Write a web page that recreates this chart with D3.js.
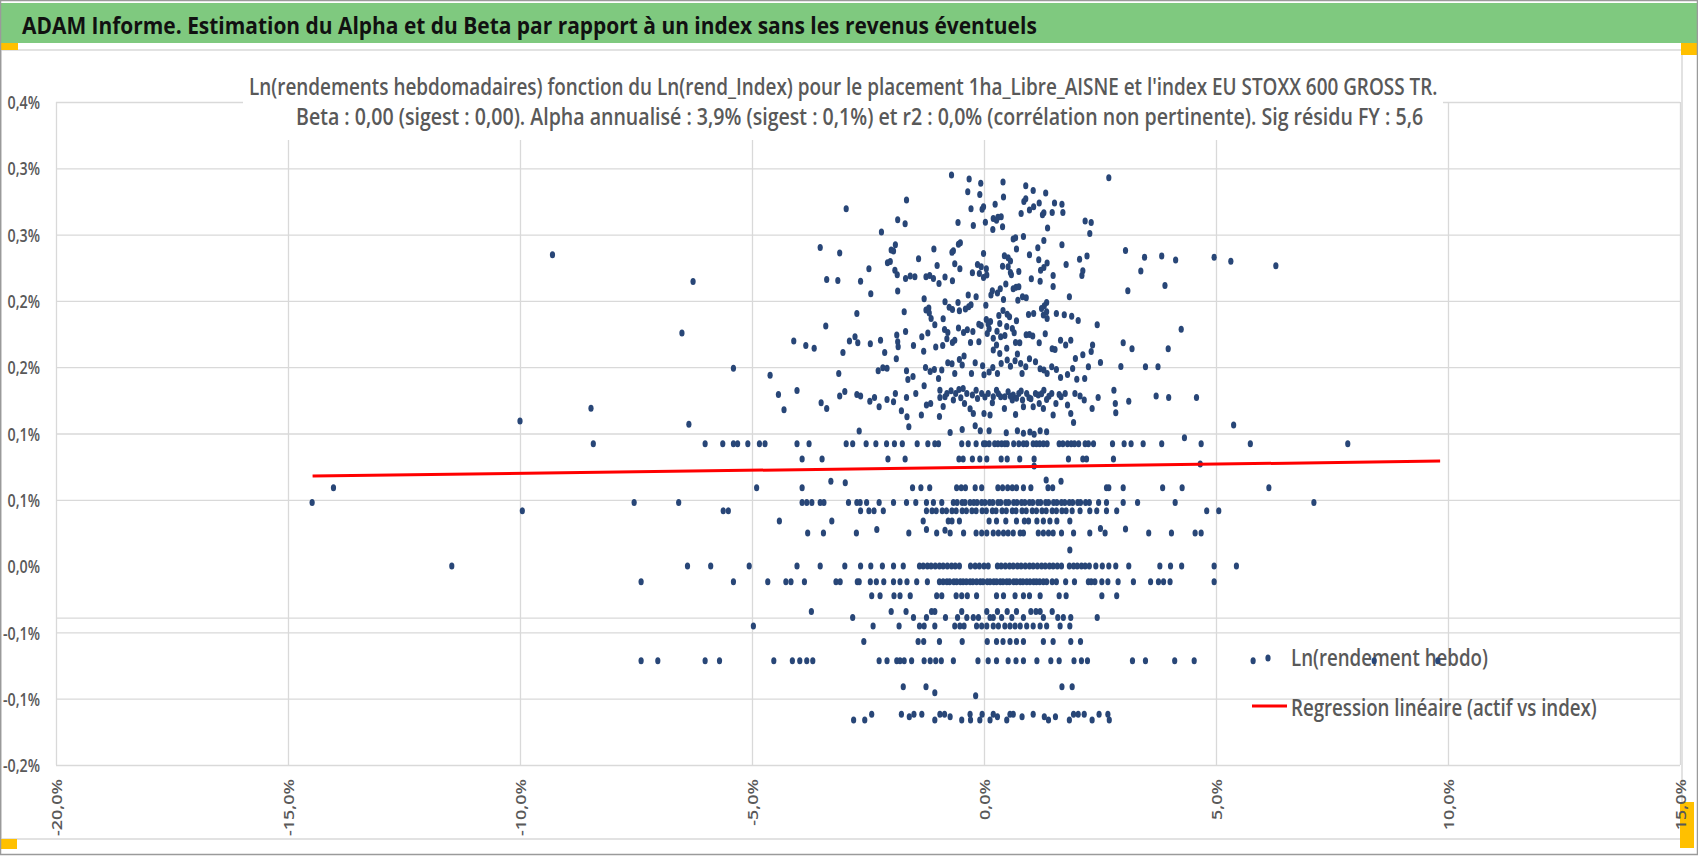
<!DOCTYPE html>
<html>
<head>
<meta charset="utf-8">
<script src="https://cdn.jsdelivr.net/npm/d3@7"></script>
<style>
  body { margin: 0; background: #fff; }
  svg { display: block; }
  text { font-family: "Open Sans", "Liberation Sans", Arial, sans-serif; }
</style>
</head>
<body>
<div id="chart"></div>
<script>
// texts
const pageTitle = "ADAM Informe. Estimation du Alpha et du Beta par rapport à un index sans les revenus éventuels";
const subTitle1 = "Ln(rendements hebdomadaires) fonction du Ln(rend_Index) pour le placement 1ha_Libre_AISNE et l'index EU STOXX 600 GROSS TR.";
const subTitle2 = "Beta : 0,00 (sigest : 0,00). Alpha annualisé : 3,9% (sigest : 0,1%) et r2 : 0,0% (corrélation non pertinente). Sig résidu FY : 5,6";
const seriesNames = ["Ln(rendement hebdo)", "Regression linéaire (actif vs index)"];

// axes (values in %)
const xTicks = [-20, -15, -10, -5, 0, 5, 10, 15];
const xTickLabels = ["-20,0%", "-15,0%", "-10,0%", "-5,0%", "0,0%", "5,0%", "10,0%", "15,0%"];
const yTicks = [-0.15, -0.10, -0.05, 0, 0.05, 0.10, 0.15, 0.20, 0.25, 0.30, 0.35];
const yTickLabels = ["-0,2%", "-0,1%", "-0,1%", "0,0%", "0,1%", "0,1%", "0,2%", "0,2%", "0,3%", "0,3%", "0,4%"];
const strayRule = -0.0392;

// regression (weekly alpha in %, beta)
const alphaWeekly = 0.0746;
const betaIndex = 0.000465;
const regressionX = [-14.47, 9.83];

// weekly returns sitting on repeated levels: level (asset %) and index % values
const rowLevels = [0.0922, 0.0807, 0.0590, 0.0480, 0.0417, 0.0341, 0.0250, 0.0000, -0.0118, -0.0224,
  -0.0342, -0.0387, -0.0452, -0.0568, -0.0714, -0.0910, -0.1118, -0.1136, -0.1160];
const rowIndex = [
  [-8.42, -6.01, -5.63, -5.40, -5.31, -5.09, -4.84, -4.72, -4.03, -3.77, -2.97, -2.83, -2.54, -2.33, -2.10, -1.93, -1.76, -1.44, -1.21, -1.06, -0.98, -0.48, -0.34, -0.17, -0.01, 0.03, 0.11, 0.23, 0.30, 0.38, 0.45, 0.50, 0.64, 0.75, 0.85, 0.92, 1.06, 1.13, 1.20, 1.28, 1.36, 1.62, 1.70, 1.80, 1.88, 1.95, 2.04, 2.18, 2.25, 2.36, 2.77, 3.02, 3.17, 3.43, 3.83, 4.68, 5.74, 7.84],
  [-3.92, -3.49, -2.07, -1.70, -0.54, -0.45, -0.25, -0.09, 0.06, 0.37, 0.50, 0.77, 1.08, 1.82, 2.13, 2.21, 2.79],
  [-14.02, -4.90, -3.92, -1.54, -1.36, -1.17, -0.59, -0.49, -0.40, -0.19, -0.05, 0.30, 0.40, 0.51, 0.61, 0.70, 0.85, 1.01, 1.38, 1.48, 2.64, 2.69, 3.00, 3.85, 4.27, 6.14],
  [-14.48, -7.54, -6.58, -3.92, -3.82, -3.71, -3.53, -3.45, -2.92, -2.74, -2.67, -2.53, -2.26, -1.95, -1.67, -1.47, -1.24, -1.09, -0.91, -0.66, -0.58, -0.47, -0.41, -0.30, -0.22, -0.15, -0.05, 0.02, 0.12, 0.19, 0.30, 0.36, 0.47, 0.53, 0.64, 0.71, 0.81, 0.88, 0.98, 1.05, 1.16, 1.22, 1.33, 1.39, 1.50, 1.57, 1.67, 1.74, 1.84, 1.91, 2.02, 2.08, 2.19, 2.27, 2.47, 2.64, 3.00, 3.31, 4.12, 7.11],
  [-9.95, -5.62, -5.51, -2.66, -2.48, -2.37, -2.17, -1.24, -1.12, -1.03, -0.90, -0.81, -0.69, -0.60, -0.47, -0.38, -0.26, -0.17, -0.04, 0.05, 0.18, 0.26, 0.39, 0.48, 0.61, 0.69, 0.82, 0.91, 1.04, 1.13, 1.25, 1.34, 1.47, 1.56, 1.68, 1.77, 1.90, 2.07, 2.28, 2.43, 2.64, 2.86, 4.80, 5.06],
  [-4.41, -3.28, -1.31, -0.77, -0.69, -0.53, 0.11, 0.27, 0.47, 0.70, 0.87, 0.96, 1.14, 1.28, 1.42, 1.57, 1.85],
  [-3.80, -3.46, -2.75, -1.62, -1.02, -0.73, -0.44, -0.17, -0.05, 0.06, 0.20, 0.31, 0.42, 0.52, 0.63, 0.78, 0.85, 1.17, 1.28, 1.39, 1.49, 1.67, 1.93, 2.28, 2.61, 3.55, 4.04, 4.55, 4.68],
  [-11.47, -6.39, -5.89, -5.06, -4.03, -3.53, -3.00, -2.66, -2.44, -2.19, -1.95, -1.74, -1.39, -1.31, -1.22, -1.14, -1.05, -0.96, -0.88, -0.79, -0.70, -0.62, -0.53, -0.29, -0.19, -0.10, 0.00, 0.09, 0.29, 0.37, 0.46, 0.55, 0.63, 0.72, 0.80, 0.89, 0.98, 1.06, 1.15, 1.24, 1.32, 1.41, 1.49, 1.58, 1.67, 1.84, 1.93, 2.01, 2.10, 2.18, 2.27, 2.41, 2.55, 2.69, 2.84, 3.12, 3.79, 4.02, 4.26, 4.96, 5.44],
  [-7.39, -5.40, -4.66, -4.27, -4.16, -3.87, -3.19, -3.10, -2.73, -2.69, -2.45, -2.32, -2.16, -1.95, -1.81, -1.66, -1.45, -1.22, -0.96, -0.88, -0.80, -0.74, -0.65, -0.59, -0.51, -0.45, -0.38, -0.30, -0.24, -0.16, -0.08, -0.02, 0.07, 0.13, 0.21, 0.27, 0.35, 0.41, 0.49, 0.55, 0.64, 0.70, 0.78, 0.84, 0.92, 0.99, 1.07, 1.13, 1.20, 1.28, 1.35, 1.47, 1.56, 1.76, 1.95, 2.25, 2.31, 2.39, 2.54, 2.67, 2.89, 3.22, 3.59, 3.76, 3.87, 4.01, 4.96],
  [-2.42, -2.24, -1.94, -1.81, -1.59, -1.02, -0.91, -0.60, -0.48, -0.36, -0.16, 0.27, 0.42, 0.67, 0.85, 0.98, 1.21, 1.62, 1.77, 2.54, 2.86],
  [-3.72, -2.00, -1.68, -1.13, -1.06, -0.48, 0.06, 0.29, 0.50, 0.70, 1.01, 1.12, 1.21, 1.47],
  [-2.83, -1.52, -1.24, -0.83, -0.57, -0.37, -0.23, -0.12, 0.13, 0.20, 0.38, 0.60, 0.85, 1.28, 1.59, 1.71, 1.87, 2.44],
  [-4.97, -2.39, -1.83, -1.39, -1.29, -1.06, -0.63, -0.52, -0.43, -0.16, -0.05, 0.06, 0.20, 0.31, 0.45, 0.56, 0.67, 0.78, 0.92, 1.06, 1.21, 1.35, 1.64, 1.85],
  [-2.59, -1.42, -1.30, -0.96, -0.47, 0.07, 0.27, 0.41, 0.56, 0.70, 0.85, 1.28, 1.49, 1.87, 2.08],
  [-7.39, -7.03, -6.01, -5.70, -4.53, -4.13, -3.97, -3.82, -3.69, -2.26, -2.09, -1.88, -1.81, -1.72, -1.56, -1.29, -1.16, -1.04, -0.92, -0.66, -0.13, 0.09, 0.27, 0.52, 0.69, 0.85, 1.14, 1.44, 1.62, 1.94, 2.10, 2.23, 3.20, 3.48, 4.11, 4.53, 5.80, 8.41, 9.78],
  [-1.74, -1.25, 1.68, 1.90],
  [-2.42, -1.78, -1.51, -1.34, -0.95, -0.85, -0.30, -0.04, 0.20, 0.56, 0.63, 1.06, 1.93, 2.03, 2.16, 2.48, 2.67],
  [-1.61, -0.73, 0.29, 0.82, 1.30, 1.54],
  [-2.81, -2.57, -1.06, -0.48, -0.29, -0.09, 0.13, 0.49, 1.39, 1.84, 2.33, 2.70]
];

// remaining weekly returns: [index %, asset %]
const loosePoints = [
  [-0.70,0.2949],[-0.32,0.2919],[-0.07,0.2888],[0.41,0.2896],[2.69,0.2929],
  [0.90,0.2868],[1.06,0.2833],[-0.35,0.2823],[-0.09,0.2803],[1.33,0.2813],[0.42,0.2783],[0.90,0.2770],[0.86,0.2750],
  [-1.67,0.2760],[-2.97,0.2695],[-0.28,0.2695],[-0.04,0.2692],[-0.01,0.2710],[0.24,0.2728],[1.19,0.2738],[1.52,0.2738],[1.68,0.2728],[1.07,0.2710],[0.98,0.2685],[1.29,0.2665],[1.26,0.2650],[1.47,0.2667],[1.70,0.2667],[0.80,0.2660],[0.20,0.2622],[0.30,0.2630],[0.37,0.2635],[0.27,0.2609],
  [-1.86,0.2612],[-1.70,0.2582],[-0.56,0.2592],[-0.23,0.2569],[0.03,0.2594],[0.19,0.2539],[0.40,0.2559],[2.18,0.2602],[2.31,0.2592],[1.37,0.2549],[2.28,0.2509],[-2.21,0.2519],
  [0.63,0.2466],[0.68,0.2476],[0.85,0.2486],[1.29,0.2456],[-0.51,0.2438],[-0.55,0.2428],[1.68,0.2423],[-3.53,0.2403],[-3.11,0.2361],[-1.91,0.2423],[-2.00,0.2383],[-1.95,0.2376],[-1.08,0.2391],[-0.66,0.2378],[-0.69,0.2366],[-0.01,0.2358],[0.70,0.2391],[1.16,0.2401],[0.98,0.2348],[3.05,0.2381],[3.46,0.2330],[3.83,0.2338],[4.13,0.2308],[-1.41,0.2318],[0.44,0.2340],[0.52,0.2325],[0.57,0.2300],[2.06,0.2315],[2.22,0.2338],[1.18,0.2310],
  [-2.08,0.2288],[-2.02,0.2298],[-1.01,0.2267],[-0.63,0.2280],[-0.52,0.2242],[0.40,0.2262],[0.52,0.2257],[-0.14,0.2275],[-0.06,0.2257],[1.36,0.2285],[1.29,0.2252],[1.22,0.2232],[1.77,0.2275],[2.13,0.2227],[2.11,0.2192],[-2.48,0.2242],[-1.92,0.2232],[-1.87,0.2197],[-0.25,0.2212],[-0.10,0.2207],[0.05,0.2242],[0.06,0.2195],[-0.01,0.2177],[0.75,0.2222],[0.57,0.2215],[1.49,0.2192],[3.38,0.2225],[-3.39,0.2162],[-3.15,0.2154],[-2.66,0.2149],[-1.69,0.2169],[-1.59,0.2187],[-1.49,0.2182],[-1.25,0.2182],[-1.17,0.2192],[-1.09,0.2169],[-0.97,0.2132],[-0.84,0.2180],[-0.68,0.2152],[1.02,0.2167],[1.21,0.2149],[0.59,0.2197],
  [-2.44,0.2054],[-1.86,0.2074],[0.47,0.2127],[1.49,0.2109],[3.10,0.2076],[3.90,0.2117],[0.69,0.2102],[0.75,0.2107],[0.63,0.2092],[0.35,0.2092],[0.18,0.2076],[0.29,0.2059],[0.15,0.2044],[-0.34,0.2044],[-0.17,0.2031],[0.42,0.2011],[0.83,0.2031],[0.91,0.2024],[0.73,0.2004],[1.84,0.2031],[-1.29,0.2016],[-0.84,0.1993],[-0.75,0.1953],[-0.68,0.1936],[-0.56,0.1988],[-0.53,0.1926],[-0.40,0.1938],[-0.28,0.1971],[-0.33,0.1956],[0.04,0.1968],[1.35,0.1988],[1.30,0.1963],
  [-2.74,0.1905],[-1.72,0.1918],[-1.25,0.1931],[-1.19,0.1946],[-1.18,0.1908],[-1.14,0.1868],[-0.88,0.1865],[-1.06,0.1820],[0.41,0.1928],[0.50,0.1900],[0.32,0.1890],[0.55,0.1880],[0.70,0.1850],[0.34,0.1830],[0.96,0.1898],[1.07,0.1905],[1.24,0.1943],[1.35,0.1918],[1.28,0.1893],[1.36,0.1868],[1.56,0.1905],[1.73,0.1895],[1.89,0.1885],[2.03,0.1853],[2.44,0.1820],[0.05,0.1860],[0.14,0.1845],[-0.06,0.1815],[-0.11,0.1823],[0.09,0.1825],[-3.41,0.1810],[-0.36,0.1782],[-0.24,0.1770],[-0.55,0.1795],[-0.44,0.1762],[-0.85,0.1785],[-0.78,0.1762],[0.28,0.1772],[0.49,0.1807],[0.61,0.1792],[0.65,0.1760],
  [-4.10,0.1697],[-3.84,0.1664],[-3.66,0.1642],[-3.04,0.1611],[-2.90,0.1697],[-2.78,0.1730],[-2.72,0.1684],[-2.45,0.1677],[-2.23,0.1704],[-2.14,0.1611],[-1.88,0.1742],[-1.86,0.1692],[-1.85,0.1654],[-1.69,0.1770],[-1.52,0.1664],[-1.30,0.1621],[-1.34,0.1730],[-1.21,0.1757],[-1.04,0.1652],[-0.89,0.1664],[-0.80,0.1714],[-0.68,0.1687],[-0.63,0.1704],[-0.29,0.1687],[-0.11,0.1692],[0.07,0.1755],[0.11,0.1790],[0.20,0.1719],[0.27,0.1667],[0.36,0.1730],[0.45,0.1740],[0.68,0.1687],[0.77,0.1684],[0.91,0.1745],[0.98,0.1747],[1.05,0.1735],[1.19,0.1684],[1.32,0.1752],[1.47,0.1639],[1.53,0.1634],[1.65,0.1704],[1.76,0.1667],[1.87,0.1704],[1.97,0.1566],[2.13,0.1594],[2.34,0.1667],[2.31,0.1619],[2.51,0.1536],[3.00,0.1684],[3.19,0.1639],[3.97,0.1639],[4.25,0.1787],
  [-4.61,0.1440],[-3.13,0.1453],[-2.28,0.1473],[-2.18,0.1496],[-2.09,0.1493],[-1.89,0.1564],[-1.67,0.1473],[-1.53,0.1430],[-1.64,0.1408],[-1.26,0.1498],[-1.16,0.1468],[-1.07,0.1483],[-0.98,0.1415],[-0.91,0.1478],[-0.78,0.1533],[-0.69,0.1526],[-0.53,0.1559],[-0.43,0.1584],[-0.47,0.1516],[-0.63,0.1453],[-0.27,0.1453],[-0.19,0.1533],[-0.03,0.1511],[0.00,0.1443],[0.11,0.1463],[0.19,0.1498],[0.29,0.1453],[0.37,0.1528],[0.50,0.1554],[0.57,0.1508],[0.67,0.1549],[0.72,0.1599],[0.79,0.1528],[0.90,0.1503],[0.82,0.1453],[0.98,0.1564],[1.11,0.1541],[1.21,0.1488],[1.29,0.1478],[1.36,0.1453],[1.46,0.1503],[1.56,0.1483],[1.65,0.1423],[1.80,0.1445],[1.91,0.1491],[2.00,0.1410],[2.17,0.1415],[2.25,0.1503],[2.95,0.1506],[3.48,0.1503],[3.75,0.1503],[0.20,0.1629],[0.34,0.1604],[0.49,0.1642],
  [-4.43,0.1295],[-4.31,0.1179],[-4.03,0.1325],[-3.51,0.1232],[-3.39,0.1189],[-3.11,0.1282],[-3.00,0.1317],[-2.74,0.1295],[-2.66,0.1282],[-2.46,0.1244],[-2.36,0.1272],[-2.26,0.1202],[-2.09,0.1257],[-1.95,0.1239],[-1.91,0.1302],[-1.78,0.1171],[-1.67,0.1272],[-1.66,0.1126],[-1.62,0.1051],[-1.47,0.1302],[-1.35,0.1139],[-1.29,0.1360],[-1.24,0.1214],[-1.15,0.1227],[-0.96,0.1129],[-0.95,0.1272],[-0.88,0.1204],[-0.80,0.1302],[-0.71,0.1322],[-0.61,0.1302],[-0.54,0.1332],[-0.45,0.1340],[-0.42,0.1227],[-0.30,0.1187],[-0.17,0.1327],[-0.14,0.1264],[-0.05,0.1302],[0.00,0.1151],[0.09,0.1302],[0.18,0.1232],[0.27,0.1327],[0.36,0.1277],[0.44,0.1189],[0.52,0.1315],[0.61,0.1252],[0.68,0.1144],[0.75,0.1302],[0.83,0.1252],[0.92,0.1302],[1.01,0.1262],[1.11,0.1302],[1.19,0.1227],[1.29,0.1327],[1.35,0.1257],[1.46,0.1302],[1.49,0.1139],[1.55,0.1227],[1.66,0.1277],[1.75,0.1302],[1.80,0.1214],[1.87,0.1151],[1.93,0.1083],[1.96,0.1302],[2.07,0.1282],[2.16,0.1252],[2.33,0.1189],[2.46,0.1272],[2.80,0.1327],[2.83,0.1227],[2.84,0.1156],[3.12,0.1244],[3.71,0.1282],[3.98,0.1272],[4.58,0.1272],[-0.95,0.1327],[-0.84,0.1277],[-0.66,0.1252],[-0.37,0.1302],[0.20,0.1277],[0.45,0.1277],[0.63,0.1290],[0.85,0.1202],[1.06,0.1202],[1.28,0.1189],[-0.23,0.1151],[0.13,0.1139],
  [-0.25,0.1290],[0.02,0.1275],[0.31,0.1300],[0.57,0.1280],[0.80,0.1320],[0.97,0.1270],[1.17,0.1290],[1.40,0.1280],[1.62,0.1295],[-0.50,0.1270],[0.70,0.1265],[1.24,0.1300],
  [-2.69,0.1018],[-0.73,0.1008],[-0.47,0.1031],[-0.19,0.1058],[-0.08,0.1021],[0.11,0.1021],[0.48,0.1006],[0.72,0.1021],[0.85,0.1001],[0.99,0.1011],[1.08,0.0995],[1.21,0.1021],[1.35,0.1013],
  [-9.30,0.2348],[-6.27,0.2147],[-6.51,0.1757],[-5.40,0.1493],[-8.47,0.1190],[-10.00,0.1094],[-6.36,0.1070],
  [4.96,0.2329],[5.32,0.2299],[6.29,0.2266],[5.38,0.1065],[4.66,0.0770],
  [4.32,0.0968],[1.08,0.0754],[-3.30,0.0639],[-2.99,0.0628],[1.34,0.0649],[1.66,0.0639],[-2.31,0.0276],[-1.24,0.0276],[-0.84,0.0271],[2.51,0.0284],[3.05,0.0279],[1.85,0.0121],[-1.06,-0.0955],[-0.18,-0.0978]
];

const W = 1698, H = 856;
const plot = {left: 56, right: 1680, top: 102, bottom: 765};
const markerColor = "#284677";
const textGrey = "#595959";
const gridGrey = "#d9d9d9";

const svg = d3.select("#chart").append("svg")
    .attr("width", W)
    .attr("height", H);

svg.append("rect").attr("width", W).attr("height", H).attr("fill", "#fff");

const x = d3.scaleLinear().domain([-20, 15]).range([plot.left, plot.right]);
const y = d3.scaleLinear().domain([-0.15, 0.35]).range([plot.bottom, plot.top]);

// squeeze a text horizontally so it spans `width` px from (x0, y0)
function fitText(sel, x0, y0, width) {
    const natural = sel.node().getComputedTextLength();
    sel.attr("x", 0).attr("y", 0)
        .attr("transform", `translate(${x0},${y0}) scale(${width / natural},1)`);
    return sel;
}

// banner
svg.append("rect").attr("x", 1).attr("y", 3).attr("width", W - 2).attr("height", 40).attr("fill", "#7fc97f");
fitText(svg.append("text")
    .attr("font-size", 24).attr("font-weight", "bold").attr("fill", "#111")
    .text(pageTitle), 22, 34, 1015);

// chart area frame
svg.append("rect").attr("x", 1).attr("y", 50).attr("width", 1681).attr("height", 789)
    .attr("fill", "none").attr("stroke", gridGrey).attr("stroke-width", 1.5);

// corner handles (under the tick labels)
const handles = [[0, 43, 18, 7], [1681, 43, 17, 12], [0, 839, 17, 10], [1680, 802, 14, 46]];
svg.append("g").selectAll("rect").data(handles).enter().append("rect")
    .attr("x", d => d[0]).attr("y", d => d[1]).attr("width", d => d[2]).attr("height", d => d[3])
    .attr("fill", "#ffc000");

// y axis + horizontal grid
const yAxis = svg.append("g")
    .attr("transform", `translate(${plot.left},0)`)
    .call(d3.axisLeft(y).tickValues(yTicks).tickSize(-(plot.right - plot.left)).tickPadding(16)
        .tickFormat((d, i) => yTickLabels[i]));
yAxis.select(".domain").remove();
yAxis.selectAll(".tick line").attr("stroke", gridGrey).attr("stroke-width", 1.3)
    .filter(d => d === 0).remove();
yAxis.selectAll(".tick text")
    .attr("x", 0).attr("dy", "0.36em")
    .attr("transform", "translate(-16,0) scale(0.77,1)")
    .attr("font-size", 18.5).attr("font-weight", 600).attr("fill", textGrey)
    .attr("font-family", "'Open Sans', 'Liberation Sans', sans-serif");

svg.append("line")
    .attr("x1", plot.left).attr("x2", plot.right)
    .attr("y1", y(strayRule)).attr("y2", y(strayRule))
    .attr("stroke", gridGrey).attr("stroke-width", 1.3);

// x axis + vertical grid
const xAxis = svg.append("g")
    .attr("transform", `translate(0,${plot.bottom})`)
    .call(d3.axisBottom(x).tickValues(xTicks).tickSize(-(plot.bottom - plot.top))
        .tickFormat((d, i) => xTickLabels[i]));
xAxis.select(".domain").remove();
xAxis.selectAll(".tick line").attr("stroke", gridGrey).attr("stroke-width", 1.3);
xAxis.selectAll(".tick text")
    .attr("y", 0).attr("dy", "0.36em")
    .attr("text-anchor", "end")
    .attr("transform", "translate(0,14) scale(0.8,1) rotate(-90)")
    .attr("font-size", 18).attr("font-weight", 600).attr("fill", textGrey)
    .attr("font-family", "'Open Sans', 'Liberation Sans', sans-serif");

// chart title box
svg.append("rect").attr("x", 243).attr("y", 52).attr("width", 1200).attr("height", 88).attr("fill", "#fff");
fitText(svg.append("text")
    .attr("font-size", 23.5).attr("font-weight", 600).attr("fill", textGrey)
    .text(subTitle1), 249, 95, 1189);
fitText(svg.append("text")
    .attr("font-size", 23.5).attr("font-weight", 600).attr("fill", textGrey)
    .text(subTitle2), 296, 125, 1128);

// legend
const legend = svg.append("g");
legend.append("ellipse").attr("cx", 1268).attr("cy", 658).attr("rx", 2.6).attr("ry", 3.5).attr("fill", markerColor);
legend.append("line").attr("x1", 1252).attr("x2", 1287).attr("y1", 706).attr("y2", 706)
    .attr("stroke", "#ff0000").attr("stroke-width", 3);
const legendWidths = [197, 306];
seriesNames.forEach((name, i) => {
    fitText(legend.append("text")
        .attr("font-size", 23).attr("font-weight", 600).attr("fill", textGrey)
        .text(name), 1291, 666 + i * 50, legendWidths[i]);
});

// points
const points = [];
rowLevels.forEach((lvl, i) => rowIndex[i].forEach(v => points.push([v, lvl])));
loosePoints.forEach(p => points.push(p));

svg.append("g").selectAll("ellipse").data(points).enter().append("ellipse")
    .attr("cx", d => x(d[0]))
    .attr("cy", d => y(d[1]))
    .attr("rx", 2.6).attr("ry", 3.5)
    .attr("fill", markerColor);

// regression line
const line = d3.line().x(d => x(d)).y(d => y(alphaWeekly + betaIndex * d));
svg.append("path").datum(regressionX)
    .attr("d", line)
    .attr("fill", "none").attr("stroke", "#ff0000").attr("stroke-width", 3);

// outer frame
svg.append("rect").attr("x", 0.5).attr("y", 0.5).attr("width", W - 1).attr("height", 854)
    .attr("fill", "none").attr("stroke", "#9a9a9a").attr("stroke-width", 1.5);
</script>
</body>
</html>
